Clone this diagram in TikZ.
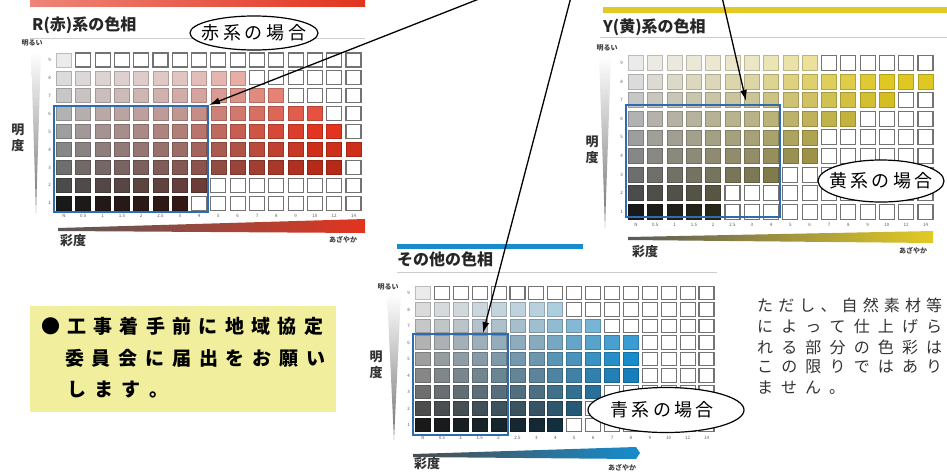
\documentclass[tikz,border=0pt]{standalone}
\usepackage{fontspec}
\usetikzlibrary{arrows.meta,shapes.geometric}
\newfontfamily\jp{Noto Sans CJK JP}
\definecolor{hueR}{RGB}{226,52,30}
\definecolor{hueY}{RGB}{226,202,36}
\definecolor{hueB}{RGB}{22,140,205}
\definecolor{frameblue}{RGB}{46,108,178}
\definecolor{notebg}{RGB}{241,238,158}
\definecolor{g1}{gray}{0.10}
\definecolor{g2}{gray}{0.30}
\definecolor{g3}{gray}{0.43}
\definecolor{g4}{gray}{0.53}
\definecolor{g5}{gray}{0.62}
\definecolor{g6}{gray}{0.70}
\definecolor{g7}{gray}{0.78}
\definecolor{g8}{gray}{0.86}
\definecolor{g9}{gray}{0.92}
\tikzset{
  tinylab/.style={font=\jp\fontsize{4.5}{5}\selectfont, text=black!65, inner sep=0pt},
  smalllab/.style={font=\jp\bfseries\fontsize{7}{8}\selectfont, text=black!75, inner sep=0pt},
  axislab/.style={font=\jp\bfseries\fontsize{13}{14}\selectfont, text=black!80, inner sep=0pt},
  charttitle/.style={font=\jp\bfseries\fontsize{16}{18}\selectfont, text=black!85, inner sep=0pt, anchor=west},
  callout/.style={ellipse, draw=black, line width=1.2pt, fill=white, inner sep=0pt},
  callouttext/.style={font=\jp\fontsize{18}{20}\selectfont, inner sep=0pt},
  notetext/.style={font=\jp\bfseries\fontsize{19}{21}\selectfont, inner sep=0pt, anchor=west},
  sidetext/.style={font=\jp\fontsize{16}{18}\selectfont, text=black!80, inner sep=0pt, anchor=west},
  pointer/.style={-{Latex[length=11pt,width=7pt]}, line width=1.3pt},
  framebox/.style={draw=frameblue, line width=2pt},
  outcell/.style={fill=white, draw=black!55, line width=1.1pt},
}
% #1 x0, #2 dx, #3 y0 (row 9), #4 dy, #5 hue colour, #6 last coloured column for V=1..9
\newcommand{\colorchart}[6]{%
  \foreach \v [count=\r] in {9,8,7,6,5,4,3,2,1} {
    \pgfmathtruncatemacro{\mx}{{#6}[\v-1]}
    \pgfmathsetmacro{\Lv}{{0.10,0.30,0.43,0.53,0.62,0.70,0.78,0.86,0.92}[\v-1]}
    \pgfmathsetmacro{\cy}{#3+(\r-1)*#4}
    \pgfmathtruncatemacro{\up}{\Lv>\peakL}
    \ifnum\up=1
      \pgfmathtruncatemacro{\kk}{100*(1-0.7*(\Lv-\peakL)/(1-\peakL))}
      \colorlet{hv}{#5!\kk!white}
    \else
      \pgfmathtruncatemacro{\kk}{100*(0.4+0.6*\Lv/\peakL)}
      \colorlet{hv}{#5!\kk!black}
    \fi
    \node[tinylab] (\chartname-r\v) at (#1-14.5,\cy) {\v};
    \foreach \c [count=\k] in {0,0.5,1,1.5,2,2.5,3,4,5,6,7,8,9,10,12,14} {
      \pgfmathsetmacro{\cx}{#1+(\k-1)*#2}
      \ifnum\k>\mx
        \path[outcell] (\cx-\cellw/2,\cy-\cellh/2) rectangle (\cx+\cellw/2,\cy+\cellh/2);
      \else
        \pgfmathtruncatemacro{\pct}{min(100,100*\c/\chromadiv)}
        \colorlet{cellc}{hv!\pct!g\v}
        \path[fill=cellc, draw=cellc!80!black, line width=0.7pt] (\cx-\cellw/2,\cy-\cellh/2) rectangle (\cx+\cellw/2,\cy+\cellh/2);
      \fi
    }
  }
  \foreach \lab [count=\k] in {N,0.5,1,1.5,2,2.5,3,4,5,6,7,8,9,10,12,14} {
    \node[tinylab] (\chartname-c\k) at ({#1+(\k-1)*#2},{#3+8*#4+13}) {\lab};
  }
}
\begin{document}
\begin{tikzpicture}[x=1pt,y=-1pt]
\useasboundingbox (0,0) rectangle (947,472);

% ---------------- red chart ----------------
\shade[left color=hueR!60, right color=hueR] (30,0) rectangle (365,6);
\draw[black!20, line width=1pt] (30,38) -- (365,38);
\node[charttitle] (tR) at (32,25) {R(赤)系の色相};
\node[smalllab] (bR) at (32,43) {明るい};
\shade[top color=white, bottom color=black!55] (31,52) -- (41,52) -- (36,213) -- cycle;
\node[axislab] (mR1) at (18,130) {明};
\node[axislab] (mR2) at (18,146) {度};
\def\chartname{R}\def\cellw{15}\def\cellh{14}\def\chromadiv{10}\def\peakL{0.62}
\colorchart{64}{19.3}{60}{17.9}{hueR}{7,8,15,16,15,14,12,10,1}
\shade[left color=black!65, right color=hueR] (58,228) -- (365,219) -- (365,233) -- (58,231) -- cycle;
\node[axislab] (sR) at (73,241) {彩度};
\node[smalllab] (aR) at (343,240) {あざやか};
\draw[framebox] (54,106) rectangle (208,212);
\coordinate (fR) at (209,105);

% ---------------- yellow chart ----------------
\fill[hueY] (603,7) rectangle (947,13);
\draw[black!20, line width=1pt] (600,37) -- (947,37);
\node[charttitle] (tY) at (603,27) {Y(黄)系の色相};
\node[smalllab] (bY) at (607,48) {明るい};
\shade[top color=white, bottom color=black!55] (599,56) -- (611,56) -- (605,228) -- cycle;
\node[axislab] (mY1) at (592,142) {明};
\node[axislab] (mY2) at (592,158) {度};
\def\chartname{Y}\def\cellw{15}\def\cellh{15}\def\chromadiv{10}\def\peakL{0.86}
\colorchart{636}{19.3}{63}{18.6}{hueY}{5,5,8,10,10,12,14,16,10}
\shade[left color=black!65, right color=hueY] (628,237) -- (933,231) -- (933,243) -- (628,240) -- cycle;
\node[axislab] (sY) at (645,252) {彩度};
\node[smalllab] (aY) at (913,251) {あざやか};
\draw[framebox] (626,105) rectangle (780,217);
\coordinate (fY) at (746,101);

% ---------------- blue chart ----------------
\fill[hueB] (397,244) rectangle (583,249);
\draw[black!20, line width=1pt] (397,272) -- (717,272);
\node[charttitle] (tB) at (397,259) {その他の色相};
\node[smalllab] (bB) at (388,287) {明るい};
\shade[top color=white, bottom color=black!55] (387,294) -- (401,294) -- (394,440) -- cycle;
\node[axislab] (mB1) at (376,357) {明};
\node[axislab] (mB2) at (376,373) {度};
\def\chartname{B}\def\cellw{15}\def\cellh{13.5}\def\chromadiv{8}\def\peakL{0.62}
\colorchart{423}{18.9}{293}{16.5}{hueB}{8,9,10,12,12,12,10,8,1}
\shade[left color=black!70, right color=hueB] (413,454) -- (636,447) -- (640,453) -- (636,459) -- (413,457) -- cycle;
\node[axislab] (sB) at (427,464) {彩度};
\node[smalllab] (aB) at (622,468) {あざやか};
\draw[framebox] (413,334) rectangle (508,435);
\coordinate (fB) at (483,333);

% ---------------- callouts ----------------
\node[callout, minimum width=128pt, minimum height=34pt] (eR) at (254,33) {};
\node[callouttext] (eRt) at (eR.center) {\makebox[105pt][s]{赤\hfill 系\hfill の\hfill 場\hfill 合}};
\node[callout, minimum width=126pt, minimum height=42pt] (eY) at (881,181) {};
\node[callouttext] (eYt) at (eY.center) {\makebox[104pt][s]{黄\hfill 系\hfill の\hfill 場\hfill 合}};
\node[callout, minimum width=156pt, minimum height=45pt] (eB) at (666,410) {};
\node[callouttext] (eBt) at (662,410) {\makebox[103pt][s]{青\hfill 系\hfill の\hfill 場\hfill 合}};

% ---------------- arrows ----------------
\coordinate (sR) at (484,-3);
\coordinate (sB) at (571,-3);
\coordinate (sY) at (722,-3);
\draw[pointer] (sR) -- (fR);
\draw[pointer] (sB) -- (fB);
\draw[pointer] (sY) -- (fY);

% ---------------- note box ----------------
\node[fill=notebg, minimum width=306pt, minimum height=106pt, inner sep=0pt] (note) at (183,359) {};
\node[notetext, anchor=center] (n0) at (51,326) {●};
\node[notetext] (n1) at (67,326) {\makebox[256pt][s]{工\hfill 事\hfill 着\hfill 手\hfill 前\hfill に\hfill 地\hfill 域\hfill 協\hfill 定}};
\node[notetext] (n2) at (65,358) {\makebox[260pt][s]{委\hfill 員\hfill 会\hfill に\hfill 届\hfill 出\hfill を\hfill お\hfill 願\hfill い}};
\node[notetext] (n3) at (67,390) {\makebox[101pt][s]{し\hfill ま\hfill す\hfill 。}};

% ---------------- side text ----------------
\node[sidetext] (s1) at (757,305) {\makebox[185pt][s]{た\hfill だ\hfill し\hfill 、\hfill 自\hfill 然\hfill 素\hfill 材\hfill 等}};
\node[sidetext] (s2) at (757,326) {\makebox[185pt][s]{に\hfill よ\hfill っ\hfill て\hfill 仕\hfill 上\hfill げ\hfill ら}};
\node[sidetext] (s3) at (757,347) {\makebox[185pt][s]{れ\hfill る\hfill 部\hfill 分\hfill の\hfill 色\hfill 彩\hfill は}};
\node[sidetext] (s4) at (757,367) {\makebox[185pt][s]{こ\hfill の\hfill 限\hfill り\hfill で\hfill は\hfill あ\hfill り}};
\node[sidetext] (s5) at (757,388) {\makebox[88pt][s]{ま\hfill せ\hfill ん\hfill 。}};
\end{tikzpicture}
\end{document}
